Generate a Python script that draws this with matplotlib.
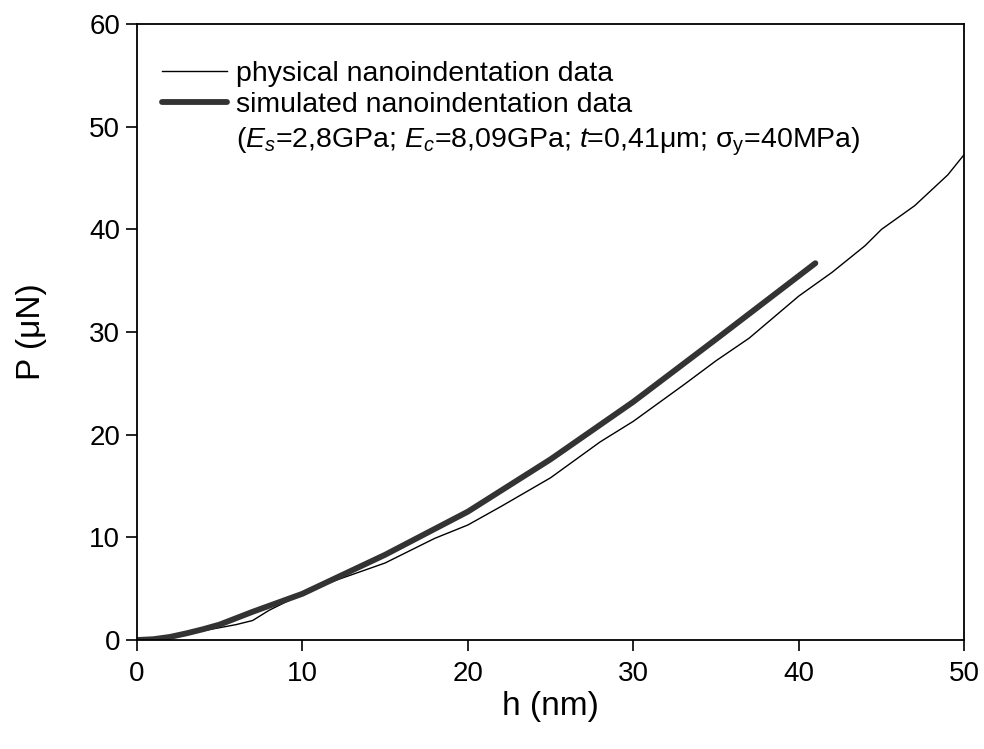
import matplotlib
matplotlib.use("Agg")
import matplotlib.pyplot as plt

plt.rcParams['font.family'] = ['Liberation Sans', 'DejaVu Sans']
plt.rcParams['mathtext.fontset'] = 'custom'
plt.rcParams['mathtext.rm'] = 'Liberation Sans'
plt.rcParams['mathtext.it'] = 'Liberation Sans:italic'

# physical nanoindentation data
h_phys = [0, 1, 2, 3, 4, 5, 6, 7, 8, 10, 12, 15, 18, 20, 22, 25, 28, 30, 33, 35,
          37, 40, 42, 44, 45, 47, 49, 50]
P_phys = [0, 0.05, 0.2, 0.6, 0.9, 1.2, 1.5, 1.9, 2.9, 4.5, 5.8, 7.5, 9.9, 11.2, 13.0,
          15.8, 19.3, 21.3, 24.8, 27.2, 29.4, 33.5, 35.8, 38.4, 40.0, 42.3, 45.3, 47.3]

# simulated nanoindentation data
h_sim = [0, 1, 2, 3, 4, 5, 7, 10, 15, 20, 25, 30, 35, 41]
P_sim = [0, 0.08, 0.3, 0.65, 1.05, 1.5, 2.75, 4.5, 8.3, 12.5, 17.6, 23.2, 29.3, 36.7]

fig = plt.figure(figsize=(9.84, 7.49), dpi=100)
ax = fig.add_axes([0.139, 0.1455, 0.841, 0.8225])

ax.plot(h_phys, P_phys, color='black', lw=1.0, label='physical nanoindentation data')
ax.plot(h_sim, P_sim, color='#333333', lw=4.2, solid_capstyle='round',
        label='simulated nanoindentation data')

ax.set_xlim(0, 50)
ax.set_ylim(0, 60)
ax.set_xticks(range(0, 51, 10))
ax.set_yticks(range(0, 61, 10))
ax.tick_params(direction='out', length=8, width=1.2, labelsize=20, pad=4,
               top=False, right=False)
ax.tick_params(axis='x', pad=7)
for s in ax.spines.values():
    s.set_linewidth(1.3)

ax.set_xlabel('h (nm)', fontsize=24, labelpad=3)
ax.set_ylabel('P (μN)', fontsize=24, labelpad=30)

ax.legend(loc='upper left', bbox_to_anchor=(0.030, 0.940), frameon=False, fontsize=20.5,
          handlelength=2.3, handletextpad=0.3, labelspacing=0.17,
          borderaxespad=0, borderpad=0)
ax.text(0.1197, 0.809, r'($E_s$=2,8GPa; $E_c$=8,09GPa; $t$=0,41μm; σ$_\mathrm{y}$=40MPa)',
        transform=ax.transAxes, fontsize=20.5, va='center', ha='left')

fig.savefig('out.png', dpi=100)
